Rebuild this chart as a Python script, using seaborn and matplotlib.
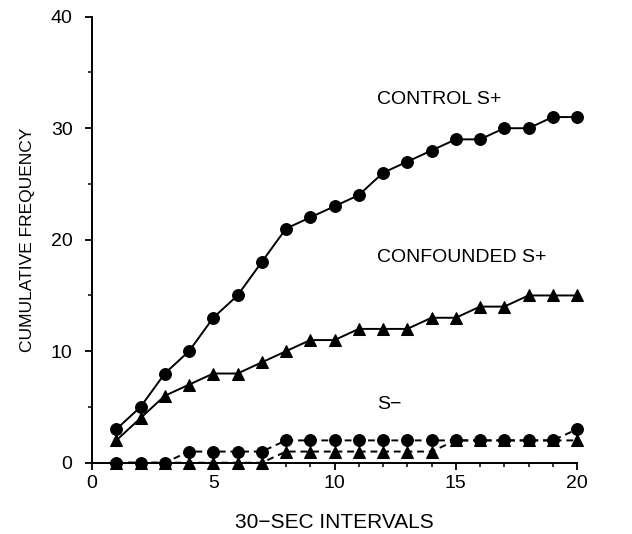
import matplotlib
matplotlib.use("Agg")
import matplotlib.pyplot as plt
import seaborn as sns
import numpy as np
import pandas as pd
from matplotlib.ticker import MultipleLocator

intervals = list(range(1, 21))
control_splus = [3, 5, 8, 10, 13, 15, 18, 21, 22, 23, 24, 26, 27, 28, 29, 29, 30, 30, 31, 31]
confounded_splus = [2, 4, 6, 7, 8, 8, 9, 10, 11, 11, 12, 12, 12, 13, 13, 14, 14, 15, 15, 15]
control_sminus = [0, 0, 0, 1, 1, 1, 1, 2, 2, 2, 2, 2, 2, 2, 2, 2, 2, 2, 2, 3]
confounded_sminus = [0, 0, 0, 0, 0, 0, 0, 1, 1, 1, 1, 1, 1, 1, 2, 2, 2, 2, 2, 2]

labels = ["CONTROL S+", "CONFOUNDED S+", "S\u2212"]
x_label = "30\u2212SEC INTERVALS"
y_label = "CUMULATIVE FREQUENCY"

sns.set_theme(style="ticks")
plt.rcParams["font.family"] = ["Liberation Sans", "DejaVu Sans"]
plt.rcParams["text.color"] = "black"
plt.rcParams["axes.labelcolor"] = "black"

fig = plt.figure(figsize=(6.32, 5.34), dpi=100)
ax = fig.add_axes([0.1456, 0.1335, 0.913 - 0.1456, 0.9687 - 0.1335])

lw = 1.4
ms = 8.5
series = [
    (confounded_sminus, "^", (3.5, 2.5)),
    (control_sminus, "o", (3.5, 2.5)),
    (confounded_splus, "^", None),
    (control_splus, "o", None),
]
for vals, mk, dash in series:
    df = pd.DataFrame({"x": intervals, "y": vals})
    sns.lineplot(data=df, x="x", y="y", ax=ax, color="black", linewidth=lw,
                 marker=mk, markersize=ms, markeredgecolor="black",
                 markerfacecolor="black", clip_on=False, zorder=3)
    line = ax.get_lines()[-1]
    if dash is not None:
        line.set_dashes(dash)

ax.set_xlim(0, 20)
ax.set_ylim(0, 40)
ax.xaxis.set_major_locator(MultipleLocator(5))
ax.xaxis.set_minor_locator(MultipleLocator(1))
ax.yaxis.set_major_locator(MultipleLocator(10))
ax.yaxis.set_minor_locator(MultipleLocator(5))
ax.tick_params(axis="both", which="major", direction="out", length=5, width=1.3,
               labelsize=14, colors="black")
ax.tick_params(axis="both", which="minor", direction="out", length=3, width=1.1,
               colors="black")
ax.tick_params(axis="y", which="major", pad=9)
ax.tick_params(axis="x", which="major", pad=4)
for s in ["top", "right"]:
    ax.spines[s].set_visible(False)
for s in ["left", "bottom"]:
    ax.spines[s].set_linewidth(1.4)
    ax.spines[s].set_color("black")

ax.set_xlabel(x_label, fontsize=15, labelpad=15, color="black")
ax.set_ylabel(y_label, fontsize=12.5, labelpad=11, color="black")

ax.text(11.75, 32.6, labels[0], fontsize=14, ha="left", va="center", color="black")
ax.text(11.75, 18.4, labels[1], fontsize=14, ha="left", va="center", color="black")
ax.text(11.75, 5.2, labels[2], fontsize=14, ha="left", va="center", color="black")

fig.savefig("out.png", dpi=100, facecolor="white")
